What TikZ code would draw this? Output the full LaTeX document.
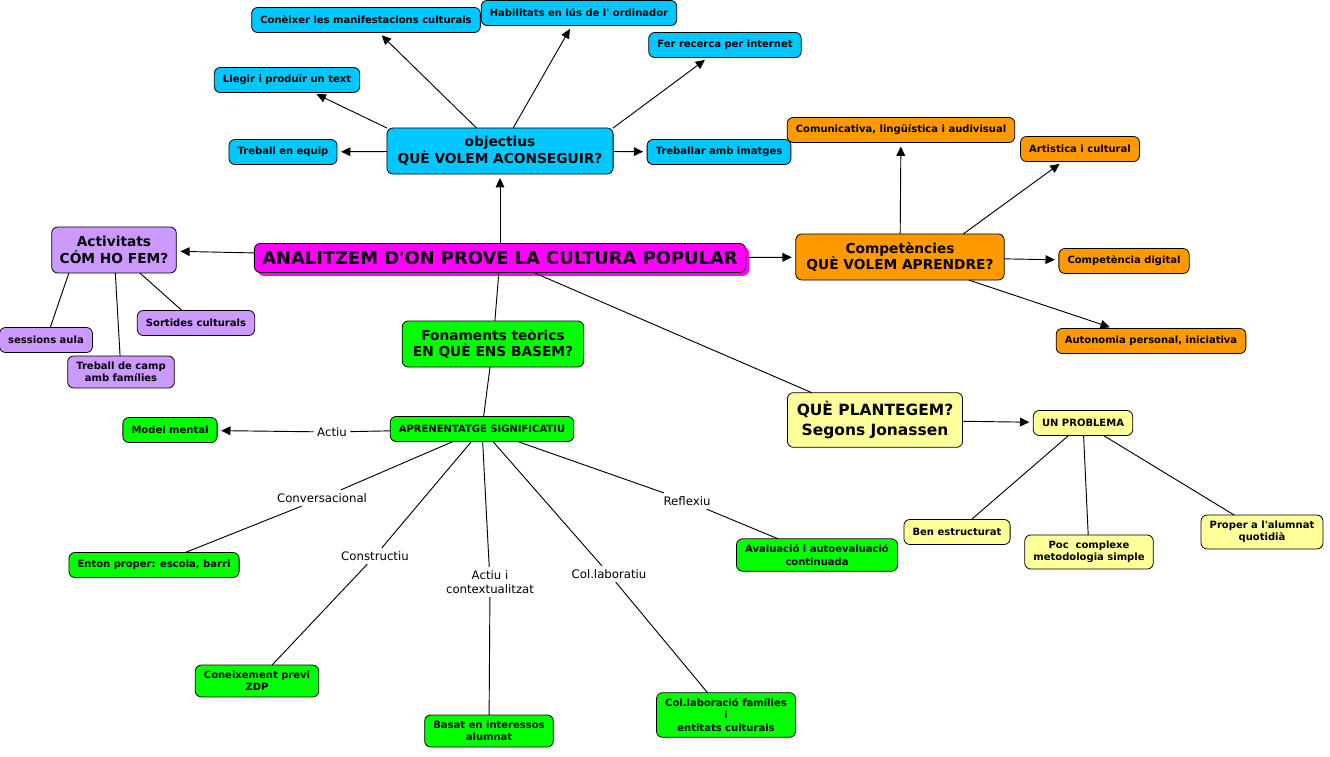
\documentclass[tikz,border=0pt]{standalone}
\usepackage{fontspec}
\setmainfont[Ligatures=TeXOff]{DejaVu Sans}
\usetikzlibrary{arrows.meta,shadows}

\definecolor{objblue}{RGB}{0,200,255}
\definecolor{comporange}{RGB}{255,153,0}
\definecolor{actpurple}{RGB}{204,153,255}
\definecolor{mainmagenta}{RGB}{255,0,255}
\definecolor{fongreen}{RGB}{0,255,0}
\definecolor{planyellow}{RGB}{255,255,153}

\begin{document}
\begin{tikzpicture}[x=0.75pt,y=-0.75pt,every text node part/.style={align=center}]

\tikzstyle{bordered} = [rounded corners=4.5pt,rectangle,draw,line width=0.6pt,outer sep=0,inner xsep=6.5pt,inner ysep=4.5pt,minimum height=18.75pt,font=\fontsize{7.5}{9.2}\selectfont\bfseries]
\tikzstyle{heading} = [bordered,inner xsep=8pt,minimum height=34.5pt,font=\fontsize{10.3}{12.7}\selectfont\bfseries]
\tikzstyle{linklabel} = [inner sep=2.5pt,font=\fontsize{8.8}{10.5}\selectfont]
\tikzstyle{arrow} = [draw,line width=0.7pt,-{Triangle[length=7pt,width=6.5pt]},shorten >=3pt]
\tikzstyle{link} = [draw,line width=0.7pt]

\useasboundingbox (0,0) rectangle (1330,756);

% centre
\node [heading, fill=mainmagenta, minimum height=21.75pt, inner xsep=6pt, font=\fontsize{13.4}{15}\selectfont\bfseries,
  general shadow={fill=mainmagenta, shadow xshift=2.5pt, shadow yshift=-2.5pt}] (main) at (500,258) {ANALITZEM D'ON PROVE LA CULTURA POPULAR};

% objectius
\node [heading, fill=objblue] (objectius) at (500,151) {objectius\\QUÈ VOLEM ACONSEGUIR?};
\node [bordered, fill=objblue] (conexer) at (366,20) {Conèixer les manifestacions culturals};
\node [bordered, fill=objblue] (habilitats) at (579,13) {Habilitats en lús de l' ordinador};
\node [bordered, fill=objblue] (recerca) at (725,45) {Fer recerca per internet};
\node [bordered, fill=objblue] (llegir) at (287,80) {Llegir i produïr un text};
\node [bordered, fill=objblue] (equip) at (283,152) {Treball en equip};
\node [bordered, fill=objblue] (imatges) at (719,152) {Treballar amb imatges};

% competencies
\node [heading, fill=comporange] (competencies) at (900,257) {Competències\\QUÈ VOLEM APRENDRE?};
\node [bordered, fill=comporange] (comunicativa) at (901,130) {Comunicativa, lingüística i audivisual};
\node [bordered, fill=comporange] (artistica) at (1080,149) {Artistica i cultural};
\node [bordered, fill=comporange] (digital) at (1124,261) {Competència digital};
\node [bordered, fill=comporange] (autonomia) at (1151,341) {Autonomia personal, iniciativa};

% activitats
\node [heading, fill=actpurple, inner xsep=6pt] (activitats) at (114,250) {Activitats\\CÓM HO FEM?};
\node [bordered, fill=actpurple] (sessions) at (46,340) {sessions aula};
\node [bordered, fill=actpurple] (sortides) at (196,323) {Sortides culturals};
\node [bordered, fill=actpurple] (camp) at (121,372) {Treball de camp\\amb famílies};

% fonaments
\node [heading, fill=fongreen] (fonaments) at (493,344) {Fonaments teòrics\\EN QUÈ ENS BASEM?};
\node [bordered, fill=fongreen] (aprenentatge) at (482,429) {APRENENTATGE SIGNIFICATIU};
\node [bordered, fill=fongreen] (model) at (170,430) {Model mental};
\node [bordered, fill=fongreen] (entorn) at (154,565) {Enton proper: escola, barri};
\node [bordered, fill=fongreen] (coneixement) at (257,681) {Coneixement previ\\ZDP};
\node [bordered, fill=fongreen] (interessos) at (489,731) {Basat en interessos\\alumnat};
\node [bordered, fill=fongreen] (families) at (726,715) {Col.laboració famílies\\i\\entitats culturals};
\node [bordered, fill=fongreen] (avaluacio) at (817,555) {Avaluació i autoevaluació\\continuada};

\node [linklabel] (actiu) at (332,432) {Actiu};
\node [linklabel] (conversacional) at (322,498) {Conversacional};
\node [linklabel] (constructiu) at (375,556) {Constructiu};
\node [linklabel] (contextual) at (490,582) {Actiu i\\contextualitzat};
\node [linklabel] (collaboratiu) at (609,574) {Col.laboratiu};
\node [linklabel] (reflexiu) at (687,501) {Reflexiu};

% plantegem
\node [heading, fill=planyellow, inner xsep=7pt, minimum height=41pt, font=\fontsize{11.6}{15.5}\selectfont\bfseries] (plantegem) at (875,420) {QUÈ PLANTEGEM?\\Segons Jonassen};
\node [bordered, fill=planyellow] (problema) at (1083,423) {UN PROBLEMA};
\node [bordered, fill=planyellow] (ben) at (957,532) {Ben estructurat};
\node [bordered, fill=planyellow] (poc) at (1089,552) {Poc\ \ complexe\\metodologia simple};
\node [bordered, fill=planyellow] (proper) at (1262,532) {Proper a l'alumnat\\quotidià};

\path[arrow] (main) -- (objectius);
\path[arrow] (main) -- (activitats);
\path[arrow] (main) -- (competencies);
\path[link] (main) -- (fonaments);
\path[link] (main) -- (plantegem);

\path[arrow] (objectius) -- (conexer);
\path[arrow] (objectius) -- (habilitats);
\path[arrow] (objectius.north east) -- (recerca);
\path[arrow] (objectius.north west) -- (llegir);
\path[arrow] (objectius) -- (equip);
\path[arrow] (objectius) -- (imatges);

\path[arrow] (competencies) -- (comunicativa);
\path[arrow] (competencies.20) -- (artistica);
\path[arrow] (competencies) -- (digital);
\path[arrow] (competencies) -- (autonomia);

\path[link] (activitats.207) -- (sessions);
\path[link] (activitats) -- (camp);
\path[link] (activitats) -- (sortides);

\path[link] (fonaments) -- (aprenentatge);
\path[link] (aprenentatge) -- (actiu);
\path[arrow] (actiu) -- (model);
\path[link] (aprenentatge) -- (conversacional) -- (entorn);
\path[link] (aprenentatge) -- (constructiu) -- (coneixement);
\path[link] (aprenentatge) -- (contextual) -- (interessos);
\path[link] (aprenentatge) -- (collaboratiu) -- (families);
\path[link] (aprenentatge) -- (reflexiu) -- (avaluacio);

\path[arrow] (plantegem) -- (problema);
\path[link] (problema) -- (ben);
\path[link] (problema) -- (poc);
\path[link] (problema) -- (proper);
\end{tikzpicture}
\end{document}
